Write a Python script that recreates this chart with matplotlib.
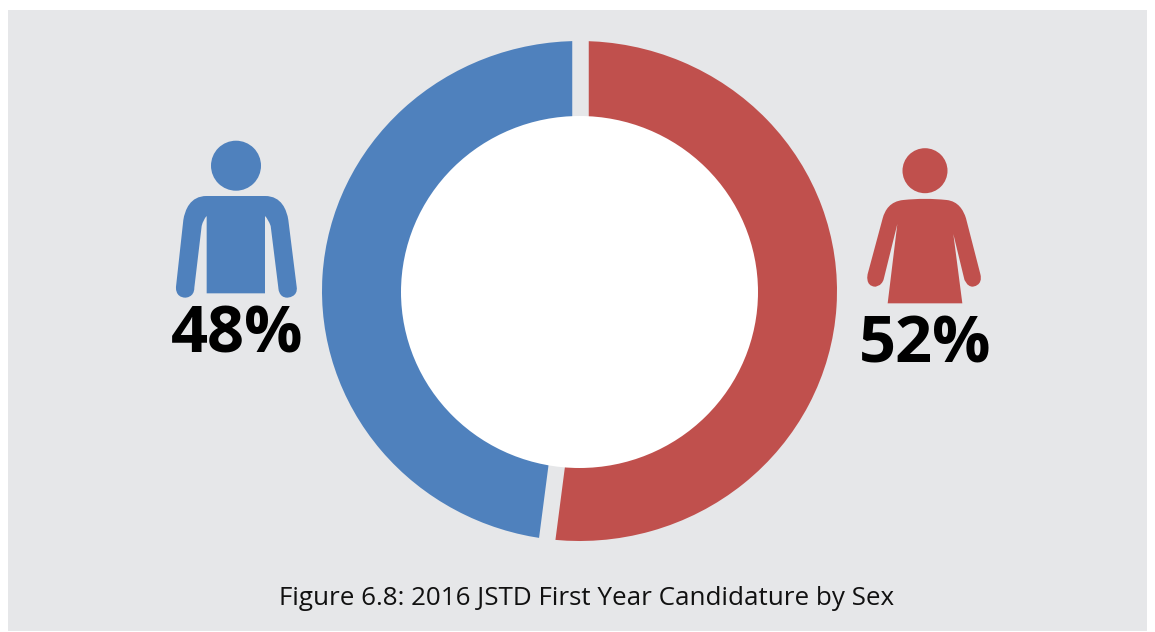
import matplotlib
matplotlib.use("Agg")
import matplotlib.pyplot as plt
import numpy as np
from matplotlib.patches import Rectangle, Circle, Ellipse, PathPatch
from matplotlib.path import Path

categories = ["Female", "Male"]
shares = [52, 48]
share_labels = ["52%", "48%"]
caption = "Figure 6.8: 2016 JSTD First Year Candidature by Sex"

W, H = 1155, 632
PANEL = "#E6E7E9"
BLUE = "#4F81BD"
RED = "#C0504D"

fig = plt.figure(figsize=(W / 100, H / 100), dpi=100, facecolor="white")

# Pixel-space layer for the panel, icons and text
bg = fig.add_axes([0, 0, 1, 1])
bg.set_xlim(0, W)
bg.set_ylim(H, 0)
bg.axis("off")
bg.add_patch(Rectangle((8, 10), 1139, 621, fc=PANEL, ec="none"))

# Ring: slightly wider than tall
cx, cy, rx, ry = 579.5, 291.0, 257.5, 250.0
ax = fig.add_axes([(cx - rx) / W, 1 - (cy + ry) / H, 2 * rx / W, 2 * ry / H])
ax.pie(shares, colors=[RED, BLUE], startangle=90, counterclock=False, radius=1)
ax.set_aspect("auto")
ax.set_xlim(-1, 1)
ax.set_ylim(-1, 1)
ax.axis("off")
ax.set_clip_on(False)

# Gaps along the slice boundaries
boundaries = np.cumsum([0] + shares[:-1]) / sum(shares) * 2 * np.pi
for b in boundaries:
    ax.plot([0, 1.02 * np.sin(b)], [0, 1.02 * np.cos(b)], color=PANEL,
            lw=16.5 * 72 / 100, solid_capstyle="butt", clip_on=False, zorder=5)
ax.add_patch(Ellipse((0, -1.0 / ry), 2 * 178.5 / rx, 2 * 176.0 / ry, fc="white", ec="none", zorder=6))


def outline(ox, oy, segments, scale=3.0):
    """Build a closed path from a start point and line/curve segments."""
    verts, codes = [], []
    for i, seg in enumerate(segments):
        pts = [(ox + x / scale, oy + y / scale) for x, y in seg]
        if i == 0:
            verts += pts
            codes += [Path.MOVETO]
        elif len(pts) == 1:
            verts += pts
            codes += [Path.LINETO]
        elif len(pts) == 2:
            verts += pts
            codes += [Path.CURVE3] * 2
        else:
            verts += pts
            codes += [Path.CURVE4] * 3
    verts.append(verts[0])
    codes.append(Path.CLOSEPOLY)
    return Path(verts, codes)


man = outline(150, 120, [
    [(170, 228)], [(345, 228)],
    [(395, 228), (410, 270), (415, 300)],
    [(440, 500)],
    [(445, 532), (412, 533), (412, 533)],
    [(385, 533), (385, 503), (385, 503)],
    [(362, 318)], [(355, 298), (345, 288)],
    [(345, 520)], [(170, 520)], [(170, 288)],
    [(160, 298), (155, 318)],
    [(133, 503)],
    [(133, 533), (106, 533), (106, 533)],
    [(74, 532), (78, 500), (78, 500)],
    [(100, 300)],
    [(105, 270), (120, 228), (170, 228)],
])
bg.add_patch(PathPatch(man, fc=BLUE, ec="none"))
bg.add_patch(Circle((236, 165.7), 25, fc=BLUE, ec="none"))

woman = outline(840, 130, [
    [(190, 210)], [(255, 203), (320, 210)],
    [(355, 214), (370, 240), (378, 265)],
    [(421, 432)],
    [(430, 468), (398, 470), (398, 470)],
    [(380, 470), (373, 448), (373, 448)],
    [(340, 312)], [(367, 520)], [(143, 520)], [(172, 282)],
    [(131, 448)],
    [(124, 470), (105, 470), (105, 470)],
    [(74, 468), (83, 432), (83, 432)],
    [(128, 265)],
    [(135, 240), (150, 214), (190, 210)],
])
bg.add_patch(PathPatch(woman, fc=RED, ec="none"))
bg.add_patch(Circle((925, 170.7), 22.5, fc=RED, ec="none"))

font = "Open Sans"
bg.text(237, 336, share_labels[1], ha="center", va="center", fontsize=46.7,
        fontweight="bold", family=font, color="black")
bg.text(925, 346, share_labels[0], ha="center", va="center", fontsize=46.7,
        fontweight="bold", family=font, color="black")
bg.text(586.5, 598.5, caption, ha="center", va="center", fontsize=18.75,
        family=font, color="#111111")

fig.savefig("out.png", dpi=100, facecolor="white")
